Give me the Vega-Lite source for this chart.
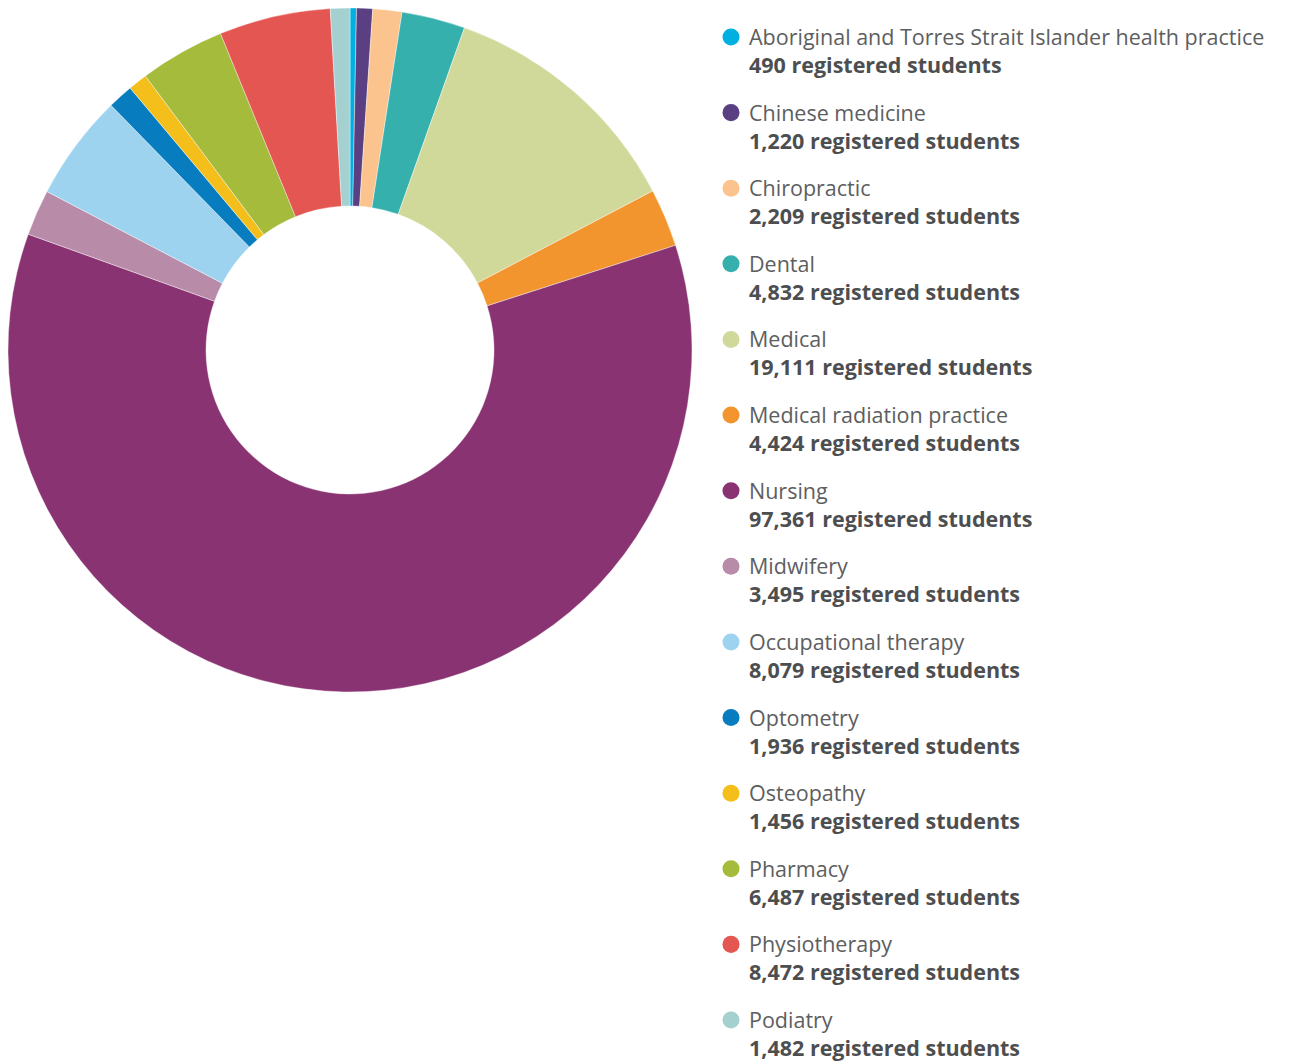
{
  "$schema": "https://vega.github.io/schema/vega-lite/v6.json",
  "padding": 0,
  "spacing": 0,
  "background": "white",
  "config": {"view": {"stroke": null}},
  "data": {
    "values": [
      {"name": "Aboriginal and Torres Strait Islander health practice", "students": 490, "label": "490 registered students"},
      {"name": "Chinese medicine", "students": 1220, "label": "1,220 registered students"},
      {"name": "Chiropractic", "students": 2209, "label": "2,209 registered students"},
      {"name": "Dental", "students": 4832, "label": "4,832 registered students"},
      {"name": "Medical", "students": 19111, "label": "19,111 registered students"},
      {"name": "Medical radiation practice", "students": 4424, "label": "4,424 registered students"},
      {"name": "Nursing", "students": 97361, "label": "97,361 registered students"},
      {"name": "Midwifery", "students": 3495, "label": "3,495 registered students"},
      {"name": "Occupational therapy", "students": 8079, "label": "8,079 registered students"},
      {"name": "Optometry", "students": 1936, "label": "1,936 registered students"},
      {"name": "Osteopathy", "students": 1456, "label": "1,456 registered students"},
      {"name": "Pharmacy", "students": 6487, "label": "6,487 registered students"},
      {"name": "Physiotherapy", "students": 8472, "label": "8,472 registered students"},
      {"name": "Podiatry", "students": 1482, "label": "1,482 registered students"}
    ]
  },
  "hconcat": [
    {
      "width": 700,
      "height": 700,
      "transform": [{"window": [{"op": "row_number", "as": "seq"}]}],
      "mark": {"type": "arc", "radius": 342, "radius2": 144, "stroke": "white", "strokeWidth": 0.4},
      "encoding": {
        "theta": {"field": "students", "type": "quantitative", "stack": true},
        "order": {"field": "seq", "type": "quantitative"},
        "color": {
          "field": "name", "type": "nominal", "sort": null, "legend": null,
          "scale": {
            "domain": ["Aboriginal and Torres Strait Islander health practice", "Chinese medicine", "Chiropractic", "Dental", "Medical", "Medical radiation practice", "Nursing", "Midwifery", "Occupational therapy", "Optometry", "Osteopathy", "Pharmacy", "Physiotherapy", "Podiatry"],
            "range": ["#00b0e0", "#5a3f82", "#fbc48f", "#35b0ac", "#d0d89a", "#f3952f", "#8a3373", "#b88ca9", "#9dd3ef", "#077dc0", "#f4bf1a", "#a4bb3b", "#e45651", "#a4d1d0"]
          }
        }
      }
    },
    {
      "width": 614,
      "height": 1063,
      "encoding": {
        "y": {"field": "name", "type": "nominal", "sort": null, "axis": null, "scale": {"type": "point", "range": [37, 1020], "padding": 0}}
      },
      "layer": [
        {
          "mark": {"type": "point", "filled": true, "opacity": 1, "size": 290, "shape": "circle"},
          "encoding": {
            "x": {"value": 31},
            "color": {"field": "name", "type": "nominal", "sort": null, "legend": null}
          }
        },
        {
          "mark": {"type": "text", "align": "left", "baseline": "middle", "font": "Open Sans", "fontSize": 21.5, "fontWeight": 400, "color": "#5d5e60", "yOffset": 2},
          "encoding": {"x": {"value": 49}, "text": {"field": "name"}}
        },
        {
          "mark": {"type": "text", "align": "left", "baseline": "middle", "font": "Open Sans", "fontSize": 21.5, "fontWeight": "bold", "color": "#4d4e50", "yOffset": 30},
          "encoding": {"x": {"value": 49}, "text": {"field": "label"}}
        }
      ]
    }
  ]
}
